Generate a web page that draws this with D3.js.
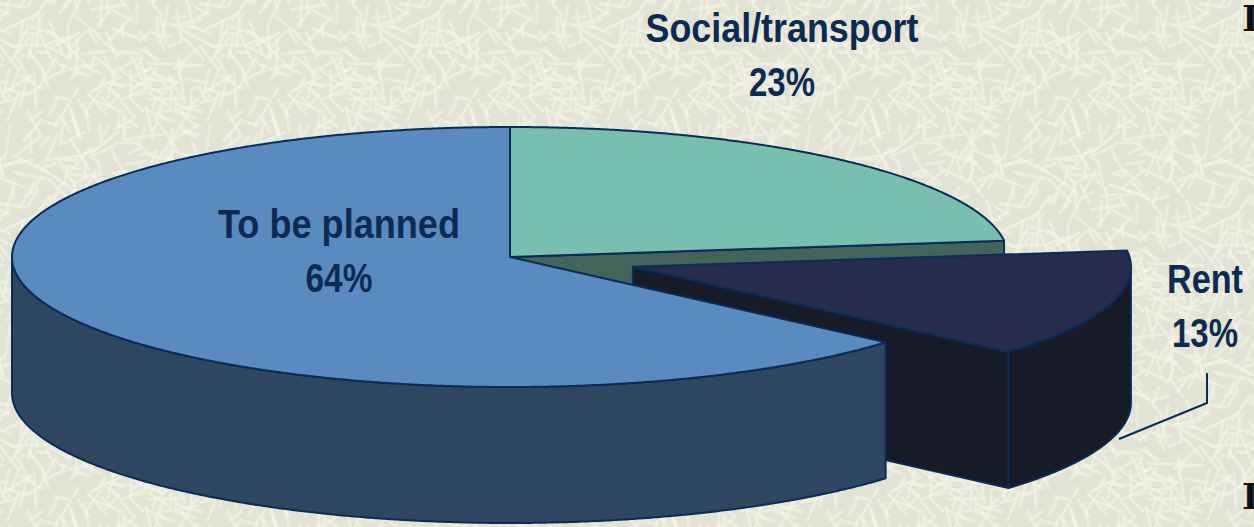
<!DOCTYPE html>
<html>
<head>
<meta charset="utf-8">
<script src="https://cdn.jsdelivr.net/npm/d3@7"></script>
<style>
  html, body { margin: 0; padding: 0; background: #e5e5d8; overflow: hidden; }
  svg { display: block; }
  .lbl { font-family: "Liberation Sans Narrow", "Arial Narrow", "Liberation Sans", Arial, sans-serif; font-weight: bold; fill: #0d2b52; }
</style>
</head>
<body>
<div id="chart"></div>
<script>
// data
var categories = ["Social/transport", "Rent", "To be planned"];
var values = [23.0, 13.4, 63.6];
var exploded = [false, true, false];

// look
var topColors  = ["#78bfb0", "#262d4c", "#5a8bc0"];
var sideColors = ["#43645a", "#171a27", "#2e465f"];
var lineColor = "#0b2c57";

// label layout (centre x, baseline of first line, widths of the two lines)
var labelPos = [
  {x: 782, y: 42, w1: 273, w2: 66},
  {x: 1205, y: 293, w1: 76, w2: 66},
  {x: 339, y: 238, w1: 242, w2: 67}
];

var width = 1254, height = 527;
var cx = 510, cy = 257, rx = 498, ry = 130, depth = 136, explode = 0.258;

var svg = d3.select("#chart").append("svg")
  .attr("width", width)
  .attr("height", height);

// background texture (fixed seed, decoration only)
var seed = 11;
function rnd() { seed = (seed * 16807) % 2147483647; return (seed - 1) / 2147483646; }
var tile = 200;
var pat = svg.append("defs").append("pattern")
  .attr("id", "tex")
  .attr("patternUnits", "userSpaceOnUse")
  .attr("width", tile).attr("height", tile);
pat.append("rect").attr("width", tile).attr("height", tile).attr("fill", "#e3e3d5");
for (var i = 0; i < 260; i++) {
  var x0 = rnd() * tile, y0 = rnd() * tile, ang = rnd() * Math.PI, len = 10 + rnd() * 26;
  var dx = Math.cos(ang) * len, dy = Math.sin(ang) * len;
  [-tile, 0, tile].forEach(function(ox) {
    [-tile, 0, tile].forEach(function(oy) {
      pat.append("line")
        .attr("x1", x0 + ox).attr("y1", y0 + oy)
        .attr("x2", x0 + ox + dx).attr("y2", y0 + oy + dy)
        .attr("stroke", "#f4f4e6")
        .attr("stroke-opacity", 0.6)
        .attr("stroke-width", 3)
        .attr("stroke-linecap", "round");
    });
  });
}
svg.append("rect").attr("width", width).attr("height", height).attr("fill", "url(#tex)");

var total = d3.sum(values);
var pie = d3.pie().sort(null).startAngle(0).endAngle(2 * Math.PI);
var arcs = pie(values);

arcs.forEach(function(d, i) {
  var m = (d.startAngle + d.endAngle) / 2;
  d.off = exploded[i] ? [explode * rx * Math.sin(m), -explode * ry * Math.cos(m)] : [0, 0];
});

function pt(a, r, z, off) {
  return [cx + off[0] + rx * r * Math.sin(a), cy + off[1] - ry * r * Math.cos(a) + z];
}
function arcPts(a0, a1, z, off) {
  var n = Math.max(2, Math.ceil((a1 - a0) / 0.005));
  return d3.range(n + 1).map(function(k) { return pt(a0 + (a1 - a0) * k / n, 1, z, off); });
}
var line = d3.line();

function topFace(d) {
  return line([pt(0, 0, 0, d.off)].concat(arcPts(d.startAngle, d.endAngle, 0, d.off))) + "Z";
}
function outerWall(d) {
  var s = Math.max(d.startAngle, Math.PI / 2), e = Math.min(d.endAngle, 3 * Math.PI / 2);
  if (s >= e) return null;
  return line(arcPts(s, e, 0, d.off).concat(arcPts(s, e, depth, d.off).reverse())) + "Z";
}
function radialWall(d, a) {
  return line([pt(a, 0, 0, d.off), pt(a, 1, 0, d.off), pt(a, 1, depth, d.off), pt(a, 0, depth, d.off)]) + "Z";
}

var g = svg.append("g")
  .attr("stroke", lineColor)
  .attr("stroke-width", 2)
  .attr("stroke-linejoin", "round");

function face(path, fill) {
  if (path) g.append("path").attr("d", path).attr("fill", fill);
}

// painter's order
face(radialWall(arcs[0], arcs[0].endAngle), sideColors[0]);
face(radialWall(arcs[1], arcs[1].endAngle), sideColors[1]);
face(outerWall(arcs[1]), sideColors[1]);
face(topFace(arcs[1]), topColors[1]);
face(outerWall(arcs[2]), sideColors[2]);
face(topFace(arcs[2]), topColors[2]);
face(topFace(arcs[0]), topColors[0]);

// leader line for Rent
svg.append("polyline")
  .attr("points", "1207,373 1207,403 1119,439")
  .attr("fill", "none")
  .attr("stroke", lineColor)
  .attr("stroke-width", 2);

// labels
arcs.forEach(function(d, i) {
  var p = labelPos[i];
  var pct = Math.round(d.value / total * 100) + "%";
  var t = svg.append("g").attr("class", "lbl").attr("text-anchor", "middle").style("font-size", "41px");
  t.append("text").attr("x", p.x).attr("y", p.y)
    .attr("textLength", p.w1).attr("lengthAdjust", "spacingAndGlyphs")
    .text(categories[i]);
  t.append("text").attr("x", p.x).attr("y", p.y + 54)
    .attr("textLength", p.w2).attr("lengthAdjust", "spacingAndGlyphs")
    .text(pct);
});

// cut-off glyphs at right edge
[31, 509].forEach(function(y) {
  svg.append("text")
    .attr("x", 1242).attr("y", y)
    .style("font-family", "DejaVu Serif")
    .style("font-weight", "bold")
    .style("font-size", "36px")
    .attr("fill", "#111")
    .text("I");
});
</script>
</body>
</html>
